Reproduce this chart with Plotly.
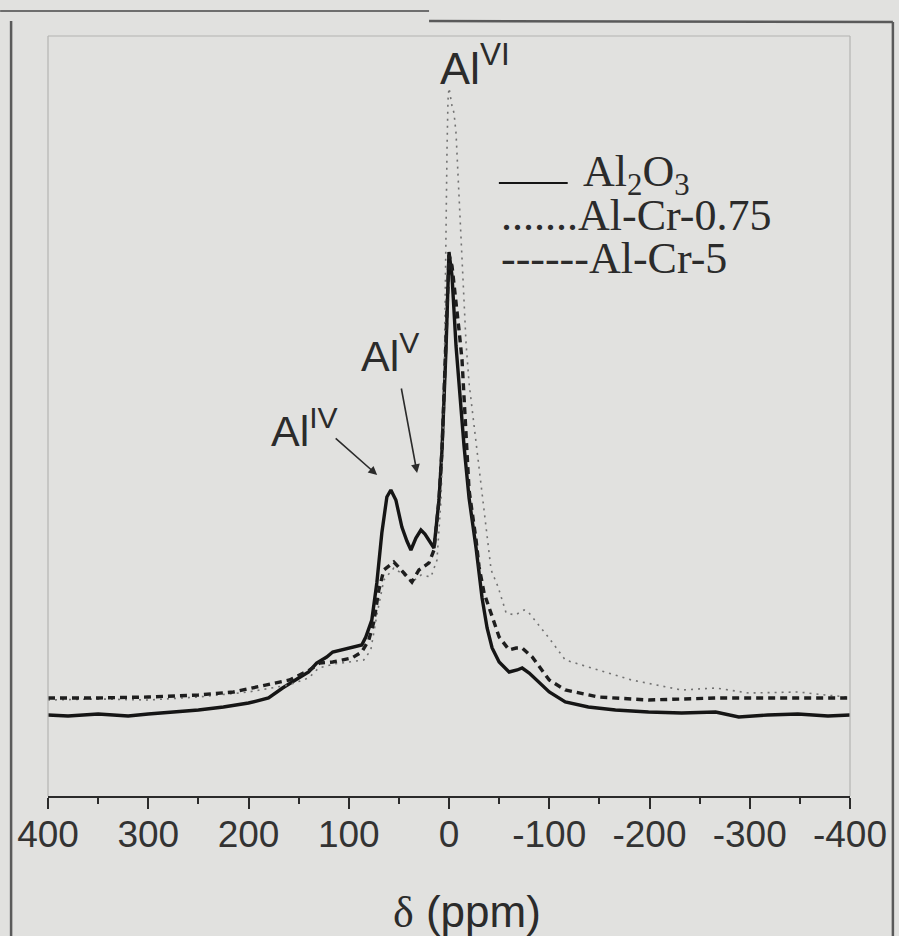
import plotly.graph_objects as go

# ---------------- data ----------------
# chemical shift (ppm) and intensity (a.u.)
al2o3_ppm = [400, 380, 350, 320, 300, 275, 250, 225, 200, 180, 166, 150, 140, 132, 122, 116,
             100, 87, 83, 77, 72, 67, 62, 58, 53, 47, 42, 38, 33, 28, 24, 20, 15, 10, 7, 3, 1,
             0, -3, -7, -15, -20, -27, -33, -38, -43, -50, -60, -68, -73, -80, -87, -100, -116,
             -139, -166, -199, -232, -266, -289, -318, -348, -378, -400]
al2o3_int = [81, 80, 82, 80, 82, 84, 86, 89, 93, 98, 108, 118, 124, 133, 139, 144,
             148, 151, 159, 176, 213, 263, 299, 306, 296, 269, 255, 246, 258, 266, 262, 256, 248, 296, 346, 446, 506,
             544, 520, 450, 350, 298, 248, 198, 168, 148, 134, 124, 126, 128, 123, 116, 104, 94,
             89, 86, 84, 83, 84, 79, 81, 82, 80, 81]

alcr075_ppm = [400, 350, 300, 250, 200, 160, 140, 130, 115, 100, 85, 78, 72, 65, 55, 45, 37,
               28, 18, 12, 8, 5, 4, 3, 2, 1, 0, -3, -5, -7, -10, -13, -15, -17, -20, -28,
               -33, -39, -42, -49, -57, -66, -75, -79, -99, -116, -149, -182, -232, -266, -299,
               -349, -375, -398]
alcr075_int = [96, 97, 96, 99, 104, 111, 118, 128, 132, 134, 136, 146, 181, 216, 228, 221, 214,
               221, 219, 236, 296, 396, 496, 566, 646, 696, 708, 690, 683, 663, 599, 546, 494, 453, 413, 346,
               306, 256, 226, 209, 183, 181, 186, 184, 159, 136, 126, 116, 106, 108, 103,
               104, 101, 99]

alcr5_ppm = [400, 350, 300, 250, 215, 182, 159, 139, 129, 116, 97, 87, 80, 75, 70, 65, 55,
             45, 37, 30, 20, 15, 10, 7, 3, 1, 0, -3, -7, -10, -13, -17, -20, -27, -30, -35,
             -42, -50, -60, -67, -73, -83, -100, -116, -149, -199, -266, -331, -400]
alcr5_int = [98, 98, 99, 101, 104, 111, 116, 126, 133, 134, 138, 144, 156, 174, 206, 226, 234,
             223, 214, 226, 233, 246, 296, 346, 446, 506, 541, 530, 496, 466, 436, 363, 306, 256, 229, 203,
             183, 159, 146, 148, 148, 139, 116, 106, 99, 96, 98, 98, 98]

tick_vals = [400, 300, 200, 100, 0, -100, -200, -300, -400]
tick_text = ["400", "300", "200", "100", "0", "-100", "-200", "-300", "-400"]
minor_vals = [350, 250, 150, 50, -50, -150, -250, -350]

series_names = ["Al2O3", "Al-Cr-0.75", "Al-Cr-5"]

# ---------------- layout helpers (pixel -> paper) ----------------
W, H = 899, 936
ML, MR, MT, MB = 48, 47, 36, 140
PW, PH = W - ML - MR, H - MT - MB


def P(px):
    return (px - ML) / PW


def Q(py):
    return (H - MB - py) / PH


BG = "#e1e1df"
INK = "#2b2b2b"

fig = go.Figure()
fig.add_trace(go.Scatter(x=al2o3_ppm, y=al2o3_int, mode="lines", name=series_names[0],
                         line=dict(color="#151515", width=3.4), showlegend=False))
fig.add_trace(go.Scatter(x=alcr075_ppm, y=alcr075_int, mode="lines", name=series_names[1],
                         line=dict(color="#727272", width=1.6, dash="2px,5px"), showlegend=False))
fig.add_trace(go.Scatter(x=alcr5_ppm, y=alcr5_int, mode="lines", name=series_names[2],
                         line=dict(color="#1e1e1e", width=3.4, dash="7px,5px"), showlegend=False))

fig.update_xaxes(range=[400, -400], tickmode="array", tickvals=tick_vals, ticktext=tick_text,
                 ticks="outside", ticklen=11, tickwidth=1.6, tickcolor=INK,
                 minor=dict(tickmode="array", tickvals=minor_vals, ticks="outside", ticklen=6,
                            tickwidth=1.6, tickcolor=INK),
                 showline=True, linecolor=INK, linewidth=2, showgrid=False, zeroline=False,
                 ticklabelstandoff=-6,
                 tickfont=dict(family="Liberation Sans, Arial", size=37, color="#333333"))
fig.update_yaxes(range=[0, 760], visible=False, showgrid=False, zeroline=False)

shapes = []
# inner plot frame (thin, light)
for (x0, y0, x1, y1) in [(48, 36, 852, 36), (48, 36, 48, 796), (852, 36, 852, 796)]:
    shapes.append(dict(type="line", xref="paper", yref="paper", x0=P(x0), y0=Q(y0), x1=P(x1), y1=Q(y1),
                       line=dict(color="#b4b4b2", width=1.2)))
# outer scan border
for (x0, y0, x1, y1, c, w) in [(0, 11, 430, 11, "#6e6e6e", 2), (430, 21, 895, 22, "#5a5a5a", 2.5),
                                (11, 21, 11, 936, "#5a5a5a", 2.5), (895, 22, 895, 936, "#5a5a5a", 2.5)]:
    shapes.append(dict(type="line", xref="paper", yref="paper", x0=P(x0), y0=Q(y0), x1=P(x1), y1=Q(y1),
                       line=dict(color=c, width=w)))
# legend line for Al2O3
shapes.append(dict(type="line", xref="paper", yref="paper", x0=P(500), y0=Q(183), x1=P(569), y1=Q(183),
                   line=dict(color="#151515", width=2.2)))

ann = []
SANS = "Liberation Sans, Arial"
SERIF = "Liberation Serif, Times New Roman"
# peak labels
ann.append(dict(text="Al<sup>VI</sup>", xref="paper", yref="paper", x=P(439), y=Q(96), xanchor="left",
                yanchor="bottom", showarrow=False, font=dict(family=SANS, size=45, color=INK)))
ann.append(dict(text="Al<sup>V</sup>", xref="paper", yref="paper", x=P(360), y=Q(382), xanchor="left",
                yanchor="bottom", showarrow=False, font=dict(family=SANS, size=43, color=INK)))
ann.append(dict(text="Al<sup>IV</sup>", xref="paper", yref="paper", x=P(270), y=Q(457), xanchor="left",
                yanchor="bottom", showarrow=False, font=dict(family=SANS, size=43, color=INK)))
# arrows
ann.append(dict(text="", xref="paper", yref="paper", x=P(418), y=Q(473), ax=402 - 418, ay=387 - 473,
                showarrow=True, arrowhead=2, arrowsize=1.1, arrowwidth=1.6, arrowcolor=INK))
ann.append(dict(text="", xref="paper", yref="paper", x=P(378), y=Q(475), ax=335 - 378, ay=437 - 475,
                showarrow=True, arrowhead=2, arrowsize=1.1, arrowwidth=1.6, arrowcolor=INK))
# legend texts
ann.append(dict(text="Al<sub>2</sub>O<sub>3</sub>", xref="paper", yref="paper", x=P(582), y=Q(174),
                xanchor="left", yanchor="middle", showarrow=False,
                font=dict(family=SERIF, size=44, color=INK)))
ann.append(dict(text="......." + series_names[1], xref="paper", yref="paper", x=P(500), y=Q(216),
                xanchor="left", yanchor="middle", showarrow=False,
                font=dict(family=SERIF, size=44, color=INK)))
ann.append(dict(text="------" + series_names[2], xref="paper", yref="paper", x=P(500), y=Q(258),
                xanchor="left", yanchor="middle", showarrow=False,
                font=dict(family=SERIF, size=44, color=INK)))
# x-axis title
ann.append(dict(text="<span style='font-family:Liberation Serif'>δ</span> (ppm)", xref="paper", yref="paper",
                x=P(468), y=Q(912), xanchor="center", yanchor="middle", showarrow=False,
                font=dict(family=SANS, size=44, color=INK)))

fig.update_layout(width=W, height=H, margin=dict(l=ML, r=MR, t=MT, b=MB, pad=0),
                  paper_bgcolor=BG, plot_bgcolor=BG, shapes=shapes, annotations=ann,
                  showlegend=False)

fig.write_html("out.html")
